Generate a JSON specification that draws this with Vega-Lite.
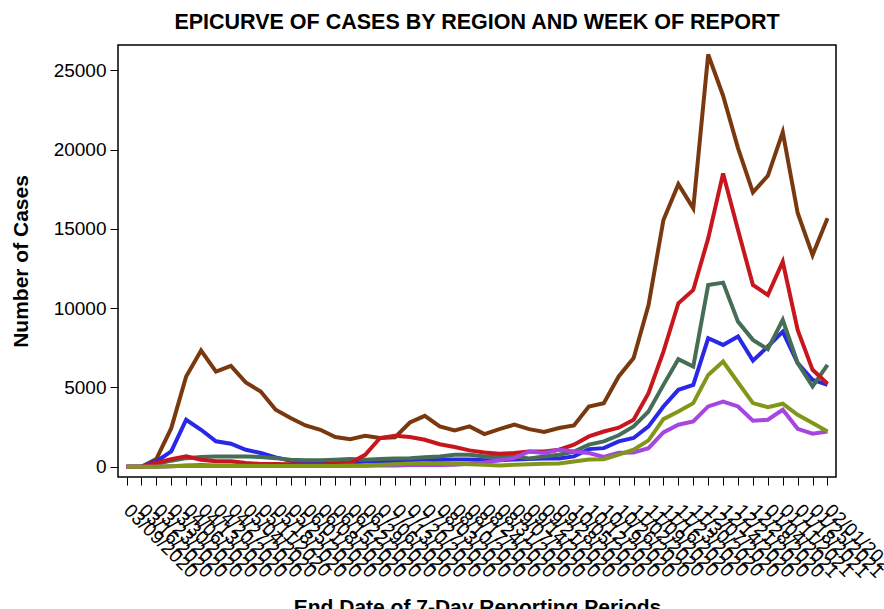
{
"$schema": "https://vega.github.io/schema/vega-lite/v6.json",
"width": 718, "height": 432,
"autosize": {"type": "none"},
"padding": {"left": 118, "top": 45, "right": 48, "bottom": 132},
"background": "white",
"title": {"text": "EPICURVE OF CASES BY REGION AND WEEK OF REPORT", "fontSize": 21.5, "font": "Liberation Sans", "fontWeight": "bold", "color": "black", "offset": 12},
"config": {"view": {"stroke": "#000", "strokeWidth": 1.5}, "axis": {"labelFont": "Liberation Sans", "titleFont": "Liberation Sans", "labelColor": "black", "titleColor": "black", "tickColor": "black", "titleFontWeight": "bold"}},
"data": {"values": [
{"week":"03/09/2020","region":"Region 1","cases":0},{"week":"03/16/2020","region":"Region 1","cases":0},{"week":"03/23/2020","region":"Region 1","cases":480},{"week":"03/30/2020","region":"Region 1","cases":2430},{"week":"04/06/2020","region":"Region 1","cases":5690},{"week":"04/13/2020","region":"Region 1","cases":7330},{"week":"04/20/2020","region":"Region 1","cases":6000},{"week":"04/27/2020","region":"Region 1","cases":6360},{"week":"05/04/2020","region":"Region 1","cases":5310},{"week":"05/11/2020","region":"Region 1","cases":4740},{"week":"05/18/2020","region":"Region 1","cases":3590},{"week":"05/25/2020","region":"Region 1","cases":3070},{"week":"06/01/2020","region":"Region 1","cases":2600},{"week":"06/08/2020","region":"Region 1","cases":2330},{"week":"06/15/2020","region":"Region 1","cases":1870},{"week":"06/22/2020","region":"Region 1","cases":1740},{"week":"06/29/2020","region":"Region 1","cases":1950},{"week":"07/06/2020","region":"Region 1","cases":1810},{"week":"07/13/2020","region":"Region 1","cases":1850},{"week":"07/20/2020","region":"Region 1","cases":2790},{"week":"07/27/2020","region":"Region 1","cases":3210},{"week":"08/03/2020","region":"Region 1","cases":2540},{"week":"08/10/2020","region":"Region 1","cases":2290},{"week":"08/17/2020","region":"Region 1","cases":2540},{"week":"08/24/2020","region":"Region 1","cases":2060},{"week":"08/31/2020","region":"Region 1","cases":2370},{"week":"09/07/2020","region":"Region 1","cases":2650},{"week":"09/14/2020","region":"Region 1","cases":2370},{"week":"09/21/2020","region":"Region 1","cases":2190},{"week":"09/28/2020","region":"Region 1","cases":2440},{"week":"10/05/2020","region":"Region 1","cases":2600},{"week":"10/12/2020","region":"Region 1","cases":3800},{"week":"10/19/2020","region":"Region 1","cases":4010},{"week":"10/26/2020","region":"Region 1","cases":5690},{"week":"11/02/2020","region":"Region 1","cases":6850},{"week":"11/09/2020","region":"Region 1","cases":10200},{"week":"11/16/2020","region":"Region 1","cases":15560},{"week":"11/23/2020","region":"Region 1","cases":17820},{"week":"11/30/2020","region":"Region 1","cases":16300},{"week":"12/07/2020","region":"Region 1","cases":26000},{"week":"12/14/2020","region":"Region 1","cases":23400},{"week":"12/21/2020","region":"Region 1","cases":20100},{"week":"12/28/2020","region":"Region 1","cases":17300},{"week":"01/04/2021","region":"Region 1","cases":18350},{"week":"01/11/2021","region":"Region 1","cases":21100},{"week":"01/18/2021","region":"Region 1","cases":16000},{"week":"01/25/2021","region":"Region 1","cases":13350},{"week":"02/01/2021","region":"Region 1","cases":15670},
{"week":"03/09/2020","region":"Region 2","cases":0},{"week":"03/16/2020","region":"Region 2","cases":0},{"week":"03/23/2020","region":"Region 2","cases":330},{"week":"03/30/2020","region":"Region 2","cases":960},{"week":"04/06/2020","region":"Region 2","cases":2960},{"week":"04/13/2020","region":"Region 2","cases":2330},{"week":"04/20/2020","region":"Region 2","cases":1600},{"week":"04/27/2020","region":"Region 2","cases":1450},{"week":"05/04/2020","region":"Region 2","cases":1070},{"week":"05/11/2020","region":"Region 2","cases":860},{"week":"05/18/2020","region":"Region 2","cases":590},{"week":"05/25/2020","region":"Region 2","cases":380},{"week":"06/01/2020","region":"Region 2","cases":250},{"week":"06/08/2020","region":"Region 2","cases":230},{"week":"06/15/2020","region":"Region 2","cases":200},{"week":"06/22/2020","region":"Region 2","cases":230},{"week":"06/29/2020","region":"Region 2","cases":330},{"week":"07/06/2020","region":"Region 2","cases":330},{"week":"07/13/2020","region":"Region 2","cases":380},{"week":"07/20/2020","region":"Region 2","cases":380},{"week":"07/27/2020","region":"Region 2","cases":400},{"week":"08/03/2020","region":"Region 2","cases":440},{"week":"08/10/2020","region":"Region 2","cases":460},{"week":"08/17/2020","region":"Region 2","cases":460},{"week":"08/24/2020","region":"Region 2","cases":400},{"week":"08/31/2020","region":"Region 2","cases":400},{"week":"09/07/2020","region":"Region 2","cases":460},{"week":"09/14/2020","region":"Region 2","cases":480},{"week":"09/21/2020","region":"Region 2","cases":520},{"week":"09/28/2020","region":"Region 2","cases":520},{"week":"10/05/2020","region":"Region 2","cases":650},{"week":"10/12/2020","region":"Region 2","cases":1110},{"week":"10/19/2020","region":"Region 2","cases":1170},{"week":"10/26/2020","region":"Region 2","cases":1600},{"week":"11/02/2020","region":"Region 2","cases":1810},{"week":"11/09/2020","region":"Region 2","cases":2540},{"week":"11/16/2020","region":"Region 2","cases":3800},{"week":"11/23/2020","region":"Region 2","cases":4850},{"week":"11/30/2020","region":"Region 2","cases":5160},{"week":"12/07/2020","region":"Region 2","cases":8100},{"week":"12/14/2020","region":"Region 2","cases":7680},{"week":"12/21/2020","region":"Region 2","cases":8210},{"week":"12/28/2020","region":"Region 2","cases":6690},{"week":"01/04/2021","region":"Region 2","cases":7580},{"week":"01/11/2021","region":"Region 2","cases":8520},{"week":"01/18/2021","region":"Region 2","cases":6530},{"week":"01/25/2021","region":"Region 2","cases":5480},{"week":"02/01/2021","region":"Region 2","cases":5160},
{"week":"03/09/2020","region":"Region 3","cases":0},{"week":"03/16/2020","region":"Region 3","cases":0},{"week":"03/23/2020","region":"Region 3","cases":170},{"week":"03/30/2020","region":"Region 3","cases":380},{"week":"04/06/2020","region":"Region 3","cases":540},{"week":"04/13/2020","region":"Region 3","cases":610},{"week":"04/20/2020","region":"Region 3","cases":650},{"week":"04/27/2020","region":"Region 3","cases":650},{"week":"05/04/2020","region":"Region 3","cases":650},{"week":"05/11/2020","region":"Region 3","cases":610},{"week":"05/18/2020","region":"Region 3","cases":540},{"week":"05/25/2020","region":"Region 3","cases":440},{"week":"06/01/2020","region":"Region 3","cases":400},{"week":"06/08/2020","region":"Region 3","cases":400},{"week":"06/15/2020","region":"Region 3","cases":440},{"week":"06/22/2020","region":"Region 3","cases":480},{"week":"06/29/2020","region":"Region 3","cases":440},{"week":"07/06/2020","region":"Region 3","cases":480},{"week":"07/13/2020","region":"Region 3","cases":520},{"week":"07/20/2020","region":"Region 3","cases":540},{"week":"07/27/2020","region":"Region 3","cases":590},{"week":"08/03/2020","region":"Region 3","cases":650},{"week":"08/10/2020","region":"Region 3","cases":750},{"week":"08/17/2020","region":"Region 3","cases":750},{"week":"08/24/2020","region":"Region 3","cases":650},{"week":"08/31/2020","region":"Region 3","cases":650},{"week":"09/07/2020","region":"Region 3","cases":650},{"week":"09/14/2020","region":"Region 3","cases":520},{"week":"09/21/2020","region":"Region 3","cases":650},{"week":"09/28/2020","region":"Region 3","cases":750},{"week":"10/05/2020","region":"Region 3","cases":960},{"week":"10/12/2020","region":"Region 3","cases":1390},{"week":"10/19/2020","region":"Region 3","cases":1600},{"week":"10/26/2020","region":"Region 3","cases":1980},{"week":"11/02/2020","region":"Region 3","cases":2540},{"week":"11/09/2020","region":"Region 3","cases":3480},{"week":"11/16/2020","region":"Region 3","cases":5160},{"week":"11/23/2020","region":"Region 3","cases":6780},{"week":"11/30/2020","region":"Region 3","cases":6320},{"week":"12/07/2020","region":"Region 3","cases":11460},{"week":"12/14/2020","region":"Region 3","cases":11610},{"week":"12/21/2020","region":"Region 3","cases":9150},{"week":"12/28/2020","region":"Region 3","cases":8000},{"week":"01/04/2021","region":"Region 3","cases":7410},{"week":"01/11/2021","region":"Region 3","cases":9260},{"week":"01/18/2021","region":"Region 3","cases":6530},{"week":"01/25/2021","region":"Region 3","cases":5060},{"week":"02/01/2021","region":"Region 3","cases":6420},
{"week":"03/09/2020","region":"Region 4","cases":0},{"week":"03/16/2020","region":"Region 4","cases":0},{"week":"03/23/2020","region":"Region 4","cases":230},{"week":"03/30/2020","region":"Region 4","cases":480},{"week":"04/06/2020","region":"Region 4","cases":650},{"week":"04/13/2020","region":"Region 4","cases":440},{"week":"04/20/2020","region":"Region 4","cases":350},{"week":"04/27/2020","region":"Region 4","cases":350},{"week":"05/04/2020","region":"Region 4","cases":230},{"week":"05/11/2020","region":"Region 4","cases":170},{"week":"05/18/2020","region":"Region 4","cases":170},{"week":"05/25/2020","region":"Region 4","cases":150},{"week":"06/01/2020","region":"Region 4","cases":130},{"week":"06/08/2020","region":"Region 4","cases":130},{"week":"06/15/2020","region":"Region 4","cases":200},{"week":"06/22/2020","region":"Region 4","cases":230},{"week":"06/29/2020","region":"Region 4","cases":750},{"week":"07/06/2020","region":"Region 4","cases":1810},{"week":"07/13/2020","region":"Region 4","cases":1950},{"week":"07/20/2020","region":"Region 4","cases":1870},{"week":"07/27/2020","region":"Region 4","cases":1700},{"week":"08/03/2020","region":"Region 4","cases":1420},{"week":"08/10/2020","region":"Region 4","cases":1240},{"week":"08/17/2020","region":"Region 4","cases":1030},{"week":"08/24/2020","region":"Region 4","cases":900},{"week":"08/31/2020","region":"Region 4","cases":820},{"week":"09/07/2020","region":"Region 4","cases":860},{"week":"09/14/2020","region":"Region 4","cases":960},{"week":"09/21/2020","region":"Region 4","cases":960},{"week":"09/28/2020","region":"Region 4","cases":1070},{"week":"10/05/2020","region":"Region 4","cases":1390},{"week":"10/12/2020","region":"Region 4","cases":1910},{"week":"10/19/2020","region":"Region 4","cases":2220},{"week":"10/26/2020","region":"Region 4","cases":2460},{"week":"11/02/2020","region":"Region 4","cases":2960},{"week":"11/09/2020","region":"Region 4","cases":4640},{"week":"11/16/2020","region":"Region 4","cases":7260},{"week":"11/23/2020","region":"Region 4","cases":10310},{"week":"11/30/2020","region":"Region 4","cases":11150},{"week":"12/07/2020","region":"Region 4","cases":14400},{"week":"12/14/2020","region":"Region 4","cases":18500},{"week":"12/21/2020","region":"Region 4","cases":14930},{"week":"12/28/2020","region":"Region 4","cases":11460},{"week":"01/04/2021","region":"Region 4","cases":10830},{"week":"01/11/2021","region":"Region 4","cases":12930},{"week":"01/18/2021","region":"Region 4","cases":8630},{"week":"01/25/2021","region":"Region 4","cases":6110},{"week":"02/01/2021","region":"Region 4","cases":5230},
{"week":"03/09/2020","region":"Region 5","cases":0},{"week":"03/16/2020","region":"Region 5","cases":0},{"week":"03/23/2020","region":"Region 5","cases":0},{"week":"03/30/2020","region":"Region 5","cases":30},{"week":"04/06/2020","region":"Region 5","cases":80},{"week":"04/13/2020","region":"Region 5","cases":100},{"week":"04/20/2020","region":"Region 5","cases":80},{"week":"04/27/2020","region":"Region 5","cases":80},{"week":"05/04/2020","region":"Region 5","cases":60},{"week":"05/11/2020","region":"Region 5","cases":60},{"week":"05/18/2020","region":"Region 5","cases":50},{"week":"05/25/2020","region":"Region 5","cases":50},{"week":"06/01/2020","region":"Region 5","cases":50},{"week":"06/08/2020","region":"Region 5","cases":50},{"week":"06/15/2020","region":"Region 5","cases":50},{"week":"06/22/2020","region":"Region 5","cases":60},{"week":"06/29/2020","region":"Region 5","cases":60},{"week":"07/06/2020","region":"Region 5","cases":80},{"week":"07/13/2020","region":"Region 5","cases":80},{"week":"07/20/2020","region":"Region 5","cases":100},{"week":"07/27/2020","region":"Region 5","cases":100},{"week":"08/03/2020","region":"Region 5","cases":100},{"week":"08/10/2020","region":"Region 5","cases":130},{"week":"08/17/2020","region":"Region 5","cases":190},{"week":"08/24/2020","region":"Region 5","cases":270},{"week":"08/31/2020","region":"Region 5","cases":400},{"week":"09/07/2020","region":"Region 5","cases":540},{"week":"09/14/2020","region":"Region 5","cases":960},{"week":"09/21/2020","region":"Region 5","cases":860},{"week":"09/28/2020","region":"Region 5","cases":1070},{"week":"10/05/2020","region":"Region 5","cases":960},{"week":"10/12/2020","region":"Region 5","cases":860},{"week":"10/19/2020","region":"Region 5","cases":620},{"week":"10/26/2020","region":"Region 5","cases":880},{"week":"11/02/2020","region":"Region 5","cases":900},{"week":"11/09/2020","region":"Region 5","cases":1170},{"week":"11/16/2020","region":"Region 5","cases":2160},{"week":"11/23/2020","region":"Region 5","cases":2650},{"week":"11/30/2020","region":"Region 5","cases":2850},{"week":"12/07/2020","region":"Region 5","cases":3800},{"week":"12/14/2020","region":"Region 5","cases":4110},{"week":"12/21/2020","region":"Region 5","cases":3800},{"week":"12/28/2020","region":"Region 5","cases":2900},{"week":"01/04/2021","region":"Region 5","cases":2960},{"week":"01/11/2021","region":"Region 5","cases":3590},{"week":"01/18/2021","region":"Region 5","cases":2390},{"week":"01/25/2021","region":"Region 5","cases":2080},{"week":"02/01/2021","region":"Region 5","cases":2220},
{"week":"03/09/2020","region":"Region 6","cases":0},{"week":"03/16/2020","region":"Region 6","cases":0},{"week":"03/23/2020","region":"Region 6","cases":0},{"week":"03/30/2020","region":"Region 6","cases":30},{"week":"04/06/2020","region":"Region 6","cases":60},{"week":"04/13/2020","region":"Region 6","cases":50},{"week":"04/20/2020","region":"Region 6","cases":50},{"week":"04/27/2020","region":"Region 6","cases":50},{"week":"05/04/2020","region":"Region 6","cases":50},{"week":"05/11/2020","region":"Region 6","cases":50},{"week":"05/18/2020","region":"Region 6","cases":50},{"week":"05/25/2020","region":"Region 6","cases":50},{"week":"06/01/2020","region":"Region 6","cases":50},{"week":"06/08/2020","region":"Region 6","cases":50},{"week":"06/15/2020","region":"Region 6","cases":50},{"week":"06/22/2020","region":"Region 6","cases":60},{"week":"06/29/2020","region":"Region 6","cases":80},{"week":"07/06/2020","region":"Region 6","cases":120},{"week":"07/13/2020","region":"Region 6","cases":150},{"week":"07/20/2020","region":"Region 6","cases":200},{"week":"07/27/2020","region":"Region 6","cases":230},{"week":"08/03/2020","region":"Region 6","cases":200},{"week":"08/10/2020","region":"Region 6","cases":190},{"week":"08/17/2020","region":"Region 6","cases":150},{"week":"08/24/2020","region":"Region 6","cases":120},{"week":"08/31/2020","region":"Region 6","cases":80},{"week":"09/07/2020","region":"Region 6","cases":120},{"week":"09/14/2020","region":"Region 6","cases":150},{"week":"09/21/2020","region":"Region 6","cases":190},{"week":"09/28/2020","region":"Region 6","cases":200},{"week":"10/05/2020","region":"Region 6","cases":330},{"week":"10/12/2020","region":"Region 6","cases":460},{"week":"10/19/2020","region":"Region 6","cases":470},{"week":"10/26/2020","region":"Region 6","cases":760},{"week":"11/02/2020","region":"Region 6","cases":1070},{"week":"11/09/2020","region":"Region 6","cases":1660},{"week":"11/16/2020","region":"Region 6","cases":3000},{"week":"11/23/2020","region":"Region 6","cases":3480},{"week":"11/30/2020","region":"Region 6","cases":4010},{"week":"12/07/2020","region":"Region 6","cases":5790},{"week":"12/14/2020","region":"Region 6","cases":6630},{"week":"12/21/2020","region":"Region 6","cases":5310},{"week":"12/28/2020","region":"Region 6","cases":4010},{"week":"01/04/2021","region":"Region 6","cases":3760},{"week":"01/11/2021","region":"Region 6","cases":3970},{"week":"01/18/2021","region":"Region 6","cases":3270},{"week":"01/25/2021","region":"Region 6","cases":2750},{"week":"02/01/2021","region":"Region 6","cases":2220}
]},
"mark": {"type": "line", "strokeWidth": 4},
"encoding": {
"x": {"field": "week", "type": "ordinal", "sort": null, "scale": {"type": "point", "padding": 0.57},
 "axis": {"title": "End Date of 7-Day Reporting Periods", "labelAngle": 45, "labelAlign": "left", "labelBaseline": "middle", "labelPadding": 22, "tickSize": 8, "labelFontSize": 19, "titleFontSize": 21, "titlePadding": 15, "domain": false, "labelOverlap": false, "labelBound": false, "grid": false}},
"y": {"field": "cases", "type": "quantitative", "scale": {"domain": [-650, 26600], "nice": false, "zero": false},
 "axis": {"values": [0, 5000, 10000, 15000, 20000, 25000], "title": "Number of Cases", "format": "d", "tickSize": 8, "labelPadding": 4, "labelFontSize": 19, "titleFontSize": 21, "titlePadding": 22, "grid": false, "domain": false}},
"color": {"field": "region", "type": "nominal", "legend": null,
 "scale": {"domain": ["Region 1", "Region 2", "Region 3", "Region 4", "Region 5", "Region 6"], "range": ["#7a380e", "#2828e6", "#466e56", "#c8161e", "#a546e0", "#829619"]}}
}
}
